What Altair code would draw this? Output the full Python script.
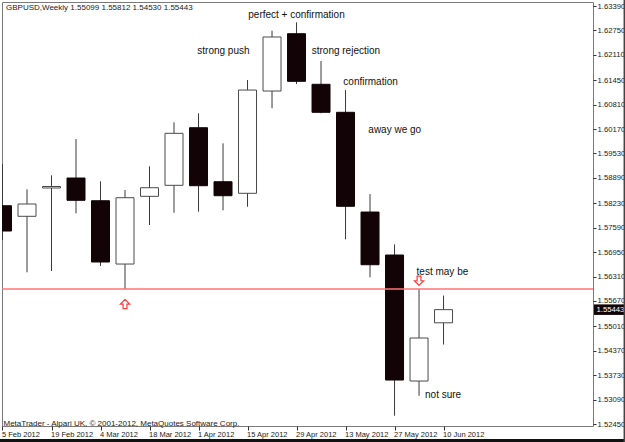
import json
import altair as alt
import pandas as pd

# ---- data (GBPUSD weekly) ----
dates = ["2012-02-05", "2012-02-12", "2012-02-19", "2012-02-26", "2012-03-04",
         "2012-03-11", "2012-03-18", "2012-03-25", "2012-04-01", "2012-04-08",
         "2012-04-15", "2012-04-22", "2012-04-29", "2012-05-06", "2012-05-13",
         "2012-05-20", "2012-05-27", "2012-06-03", "2012-06-10"]
opens = [1.58163, 1.57886, 1.58627, 1.58888, 1.58294, 1.56637, 1.58409, 1.58697,
         1.60205, 1.58791, 1.58488, 1.61165, 1.62665, 1.61341, 1.60608, 1.57998,
         1.56873, 1.53575, 1.55099]
highs = [1.59255, 1.58592, 1.58959, 1.59909, 1.58802, 1.58574, 1.59194, 1.60346,
         1.60582, 1.59796, 1.61453, 1.62744, 1.62963, 1.61950, 1.61191, 1.58469,
         1.57153, 1.55983, 1.55812]
lows = [1.57266, 1.56420, 1.56454, 1.57964, 1.56585, 1.55983, 1.57658, 1.57980,
        1.58006, 1.58043, 1.58137, 1.60713, 1.61349, 1.60582, 1.57284, 1.56289,
        1.52667, 1.53190, 1.54530]
closes = [1.57501, 1.58208, 1.58666, 1.58305, 1.56690, 1.58373, 1.58634, 1.60058,
          1.58687, 1.58425, 1.61191, 1.62579, 1.61419, 1.60608, 1.58148, 1.56619,
          1.53601, 1.54701, 1.55443]

price_ticks = [1.63390, 1.62750, 1.62110, 1.61450, 1.60810, 1.60170, 1.59530,
               1.58890, 1.58230, 1.57590, 1.56950, 1.56310, 1.55670, 1.55010,
               1.54370, 1.53730, 1.53090, 1.52450]

level_price = 1.55983
symbol_name = "GBPUSD,Weekly"

ann_text = ["strong push", "perfect + confirmation", "strong rejection",
            "confirmation", "away we go", "test may be", "not sure"]
ann_week = [7.95, 10.03, 12.62, 13.91, 14.93, 16.90, 17.245]
ann_price = [1.62121, 1.63076, 1.62147, 1.61322, 1.60074, 1.56349, 1.53122]

arrow_up_week, arrow_up_price = [5], [1.55590]
arrow_down_week, arrow_down_price = [17], [1.56200]

footer_text = "MetaTrader - Alpari UK, \u00a9 2001-2012, MetaQuotes Software Corp."

# ---- tables ----
ts = pd.to_datetime(dates)
date_labels = [f"{t.day} {t.strftime('%b %Y')}" for t in ts]
candles = pd.DataFrame({
    "week": list(range(len(dates))),
    "date": dates,
    "open": opens, "high": highs, "low": lows, "close": closes,
})
candles["dir"] = ["up" if c >= o else "down" for o, c in zip(opens, closes)]

header = (f"{symbol_name}  {opens[-1]:.5f} {highs[-1]:.5f} "
          f"{lows[-1]:.5f} {closes[-1]:.5f}")

W, H = 591, 424
xscale = alt.Scale(domain=[-0.0204, 24.10], nice=False, zero=False, padding=0)
yscale = alt.Scale(domain=[1.52398, 1.63495], nice=False, zero=False, padding=0)
FONT = "Liberation Sans"

label_expr = f"{json.dumps(date_labels)}[datum.value]"
xaxis = alt.Axis(values=list(range(0, len(dates), 2)), labelExpr=label_expr,
                 labelAlign="left", labelFont=FONT, labelFontSize=7.5,
                 labelColor="#1a1a1a", labelPadding=0, tickSize=4,
                 tickColor="#333333", domain=False, grid=False, title=None,
                 labelOverlap=False, labelFlush=False, labelBound=False,
                 labelBaseline="top", labelOffset=-1)
yaxis = alt.Axis(orient="right", values=price_ticks, format=".5f",
                 labelFont=FONT, labelFontSize=7.7, labelColor="#1a1a1a",
                 labelPadding=1, tickSize=3, tickColor="#333333",
                 domain=False, grid=False, title=None, labelBound=False,
                 labelOverlap=False, labelFlush=False)


def X(field):
    return alt.X(field, scale=xscale, axis=xaxis)


def Y(field):
    return alt.Y(field, scale=yscale, axis=yaxis)


base = alt.Chart(candles)

wicks = base.mark_rule(color="#3a3a3a", strokeWidth=1, clip=True).encode(
    x=X("week:Q"), y=Y("low:Q"), y2="high:Q",
)

bodies = base.mark_bar(size=18, strokeWidth=1, clip=True).encode(
    x=X("week:Q"), y=Y("open:Q"), y2="close:Q",
    fill=alt.Fill("dir:N", scale=alt.Scale(domain=["up", "down"],
                                           range=["#ffffff", "#120406"]),
                  legend=None),
    stroke=alt.Stroke("dir:N", scale=alt.Scale(domain=["up", "down"],
                                               range=["#4a4a4a", "#120406"]),
                      legend=None),
)

level_df = pd.DataFrame({"price": [level_price]})
level = alt.Chart(level_df).mark_rule(color="#ff7474", strokeWidth=1.5).encode(
    y=Y("price:Q")
)

UP = "M0,-1L1,0L0.42,0L0.42,1L-0.42,1L-0.42,0L-1,0Z"
DOWN = "M0,1L1,0L0.42,0L0.42,-1L-0.42,-1L-0.42,0L-1,0Z"
up_df = pd.DataFrame({"week": arrow_up_week, "price": arrow_up_price})
down_df = pd.DataFrame({"week": arrow_down_week, "price": arrow_down_price})
up_arrow = alt.Chart(up_df).mark_point(shape=UP, size=85, filled=False,
                                       fill="#ffffff", stroke="#ff3b3b",
                                       strokeWidth=1.2, opacity=1).encode(
    x=X("week:Q"), y=Y("price:Q"))
down_arrow = alt.Chart(down_df).mark_point(shape=DOWN, size=85, filled=False,
                                           fill="#ffffff", stroke="#ff3b3b",
                                           strokeWidth=1.2, opacity=1).encode(
    x=X("week:Q"), y=Y("price:Q"))

ann_df = pd.DataFrame({"text": ann_text, "week": ann_week, "price": ann_price})
notes = alt.Chart(ann_df).mark_text(align="left", baseline="alphabetic",
                                    font=FONT, fontSize=10,
                                    color="#111111").encode(
    x=X("week:Q"), y=Y("price:Q"), text="text:N")

box_df = pd.DataFrame({"price": [level_price, closes[-1]],
                       "kind": ["level", "last"]})
BOX = "M-1,-0.34L1,-0.34L1,0.34L-1,0.34Z"
boxes = alt.Chart(box_df).mark_point(shape=BOX, size=961, filled=True,
                                     opacity=1, strokeWidth=0).encode(
    x=alt.value(607.5),
    y=Y("price:Q"),
    fill=alt.Fill("kind:N", scale=alt.Scale(domain=["level", "last"],
                                            range=["#ff1a1a", "#0a0a0a"]),
                  legend=None),
)
box_text = alt.Chart(box_df).mark_text(align="left", baseline="middle",
                                       font=FONT, fontSize=7.7,
                                       color="#ffffff").encode(
    x=alt.value(594.5), y=Y("price:Q"),
    text=alt.Text("price:Q", format=".5f"))

head = alt.Chart(alt.Data(values=[{"t": header}])).mark_text(
    align="left", baseline="alphabetic", font=FONT, fontSize=8,
    color="#1a1a1a").encode(x=alt.value(4), y=alt.value(8), text="t:N")
foot = alt.Chart(alt.Data(values=[{"t": footer_text}])).mark_text(
    align="left", baseline="alphabetic", font=FONT, fontSize=8,
    color="#1a1a1a").encode(x=alt.value(1.5), y=alt.value(423.5), text="t:N")

frame_bottom = alt.Chart(alt.Data(values=[{"a": 1}])).mark_rule(
    color="#111111", strokeWidth=3).encode(
    x=alt.value(-2), x2=alt.value(623), y=alt.value(438.5))
frame_right = alt.Chart(alt.Data(values=[{"a": 1}])).mark_rule(
    color="#444444", strokeWidth=1.5).encode(
    x=alt.value(622.3), y=alt.value(-2), y2=alt.value(440))

chart = alt.layer(
    wicks, bodies, level, up_arrow, down_arrow, notes, boxes, box_text,
    head, foot, frame_bottom, frame_right
).properties(
    width=W, height=H,
    autosize=alt.AutoSizeParams(type="none"),
    padding={"left": 2, "top": 2, "right": 32, "bottom": 16},
    background="#ffffff",
).configure_view(stroke="#7a7a7a", strokeWidth=1
).configure_axis(labelOverlap=False, labelFlush=False, labelBound=False)

chart.save("out.html", embed_options={"renderer": "svg", "actions": False})
